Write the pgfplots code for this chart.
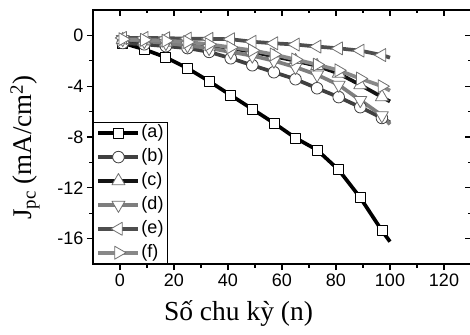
\documentclass[border=0pt]{standalone}
\usepackage{fontspec}
\setmainfont{Liberation Sans}
\newfontfamily\timesfont{Liberation Serif}
\usepackage{pgfplots}
\pgfplotsset{compat=1.18}
\definecolor{ca}{HTML}{000000}
\definecolor{cb}{HTML}{404040}
\definecolor{cc}{HTML}{141414}
\definecolor{cd}{HTML}{7E7E7E}
\definecolor{ce}{HTML}{4E4E4E}
\definecolor{cf}{HTML}{888888}
\definecolor{mk}{HTML}{707070}
\begin{document}
\begin{tikzpicture}
\pgfplotsset{
  common/.style={
    scale only axis, width=378bp, height=254bp,
    xmin=-10, xmax=130, ymin=-18, ymax=2,
    xtick={0,20,...,120}, minor x tick num=1,
    ytick={-16,-12,-8,-4,0}, minor y tick num=1,
    major tick length=6bp, minor tick length=3.5bp,
    tick style={line width=1.1bp, black},
    axis line style={line width=1.2bp},
  },
  ser/.style={line width=3.7bp, line join=round, line cap=butt},
}
\begin{axis}[common,
  xtick pos=left, ytick pos=left, tick align=outside,
  xticklabels={0,20,40,60,80,100,120},
  yticklabels={-16,-12,-8,-4,0},
  tick label style={font=\fontsize{18bp}{20bp}\selectfont},
  /pgf/number format/assume math mode=true,
  xlabel={Số chu kỳ (n)},
  ylabel={J\textsubscript{pc} (mA/cm\textsuperscript{2})},
  xlabel style={at={(axis description cs:0.385,-0.193)}, anchor=center, font=\timesfont\fontsize{27.5bp}{30bp}\selectfont},
  ylabel style={at={(axis description cs:-0.18,0.459)}, anchor=center, font=\timesfont\fontsize{27bp}{30bp}\selectfont},
  legend cell align=left,
  legend style={at={(0,0)}, anchor=south west, draw=black, line width=1.2bp, fill=white,
    font=\fontsize{18bp}{20bp}\selectfont,
    nodes={inner sep=1.2bp, text height=13bp, text depth=4bp},
    row sep=4.5bp, inner xsep=3bp, inner ysep=1bp},
  legend image code/.code={\draw[mark repeat=2,mark phase=2,#1] plot coordinates {(0bp,0bp) (20bp,0bp) (40bp,0bp)};},
]
% (a)
\addplot[forget plot, ser, color=ca] coordinates {(97,-15.37) (100,-16.24)};
\addplot[ser, color=ca, mark=square*, mark size=5bp, mark options={solid, fill=white, draw=black, line width=0.8bp}]
 coordinates {(1,-0.6) (9,-1.1) (17,-1.73) (25,-2.59) (33,-3.61) (41,-4.71) (49,-5.8) (57,-6.9) (65,-8.08) (73,-9.02) (81,-10.59) (89,-12.78) (97,-15.37)};
\addlegendentry{(a)}
% (b)
\addplot[forget plot, ser, color=cb] coordinates {(97,-6.5) (100,-6.85)};
\addplot[ser, color=cb, mark=*, mark size=5.8bp, mark options={solid, fill=white, draw=cb, line width=0.8bp}]
 coordinates {(1,-0.6) (9,-0.7) (17,-0.85) (25,-1.0) (33,-1.3) (41,-1.8) (49,-2.35) (57,-2.9) (65,-3.45) (73,-4.16) (81,-4.86) (89,-5.65) (97,-6.5)};
\addlegendentry{(b)}
% (c)
\addplot[forget plot, ser, color=cc] coordinates {(97,-4.85) (100,-5.2)};
\addplot[ser, color=cc, mark=triangle*, mark size=7.5bp, mark options={solid, fill=white, draw=mk, line width=0.8bp}]
 coordinates {(1,-0.35) (9,-0.45) (17,-0.55) (25,-0.7) (33,-0.85) (41,-1.0) (49,-1.3) (57,-1.65) (65,-2.0) (73,-2.4) (81,-3.0) (89,-3.9) (97,-4.85)};
\addlegendentry{(c)}
% (d)
\addplot[forget plot, ser, color=cd] coordinates {(97,-6.3) (100,-7.0)};
\addplot[ser, color=cd, mark=triangle*, mark size=7.5bp, mark options={solid, rotate=180, fill=white, draw=mk, line width=0.8bp}]
 coordinates {(1,-0.3) (9,-0.45) (17,-0.6) (25,-0.8) (33,-1.0) (41,-1.3) (49,-1.6) (57,-2.0) (65,-2.5) (73,-3.1) (81,-3.9) (89,-5.1) (97,-6.3)};
\addlegendentry{(d)}
% (e)
\addplot[forget plot, ser, color=ce] coordinates {(97,-1.55) (100,-1.75)};
\addplot[ser, color=ce, mark=triangle*, mark size=7.5bp, mark options={solid, rotate=90, fill=white, draw=mk, line width=0.8bp}]
 coordinates {(1,-0.2) (9,-0.2) (17,-0.22) (25,-0.25) (33,-0.27) (41,-0.3) (49,-0.5) (57,-0.62) (65,-0.72) (73,-0.88) (81,-1.02) (89,-1.2) (97,-1.55)};
\addlegendentry{(e)}
% (f)
\addplot[forget plot, ser, color=cf] coordinates {(97,-4.0) (100,-4.35)};
\addplot[ser, color=cf, mark=triangle*, mark size=7.5bp, mark options={solid, rotate=-90, fill=white, draw=mk, line width=0.8bp}]
 coordinates {(1,-0.3) (9,-0.35) (17,-0.42) (25,-0.52) (33,-0.7) (41,-0.94) (49,-1.18) (57,-1.5) (65,-1.9) (73,-2.3) (81,-2.75) (89,-3.4) (97,-4.0)};
\addlegendentry{(f)}
\end{axis}
\begin{axis}[common,
  xtick pos=right, ytick pos=right, tick align=inside,
  xticklabels={}, yticklabels={},
]
\end{axis}
\pgfresetboundingbox
\path[use as bounding box] ([xshift=-93bp,yshift=-71bp]current axis.south west) rectangle ([xshift=-1bp,yshift=10bp]current axis.north east);
\end{tikzpicture}
\end{document}
